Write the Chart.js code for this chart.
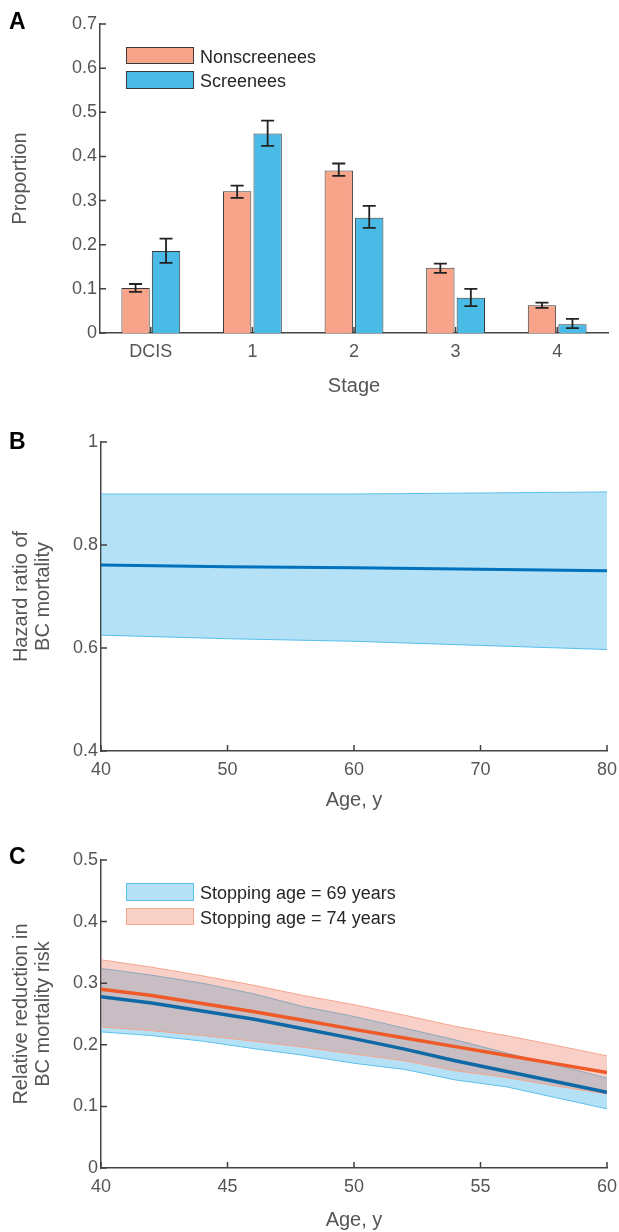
<!DOCTYPE html>
<html>
<head>
<meta charset="utf-8">
<script src="https://cdn.jsdelivr.net/npm/chart.js@4.4.1/dist/chart.umd.min.js"></script>
<style>
body { margin: 0; background: #fff; width: 619px; height: 1232px; position: relative; overflow: hidden; font-family: 'Liberation Sans', Arial, sans-serif; }
canvas { position: absolute; left: 0; }
.panel { position: absolute; left: 9px; font-weight: bold; font-size: 23px; line-height: 23px; color: #000; }
.box { position: absolute; left: 126px; width: 68px; box-sizing: border-box; }
.ltxt { position: absolute; left: 200px; font-size: 18px; line-height: 18px; color: #262626; white-space: nowrap; }
</style>
</head>
<body>
<canvas id="chartA" width="619" height="410" style="top:0px"></canvas>
<canvas id="chartB" width="619" height="420" style="top:410px"></canvas>
<canvas id="chartC" width="619" height="402" style="top:830px"></canvas>

<div class="panel" style="top:10px">A</div>
<div class="panel" style="top:430px">B</div>
<div class="panel" style="top:845px">C</div>

<div class="box" style="top:47px;height:17px;background:#F7A48A;border:1px solid #3a3a3a"></div>
<div class="ltxt" style="top:48px">Nonscreenees</div>
<div class="box" style="top:71px;height:18px;background:#4ABBE6;border:1px solid #3a3a3a"></div>
<div class="ltxt" style="top:72px">Screenees</div>

<div class="box" style="top:883px;height:18px;background:#B4E1F4;border:1px solid #5BC0EB"></div>
<div class="ltxt" style="top:884px">Stopping age = 69 years</div>
<div class="box" style="top:908px;height:17px;background:#F9D2C7;border:1px solid #F6A58D"></div>
<div class="ltxt" style="top:909px">Stopping age = 74 years</div>

<script>
// panel A: stage distribution
const stages = ['DCIS', '1', '2', '3', '4'];
const nonscreenees = [0.102, 0.321, 0.368, 0.148, 0.063];
const nonLow = [0.093, 0.306, 0.356, 0.136, 0.057];
const nonHigh = [0.111, 0.334, 0.384, 0.157, 0.069];
const screenees = [0.186, 0.452, 0.261, 0.080, 0.020];
const scrLow = [0.159, 0.424, 0.238, 0.061, 0.011];
const scrHigh = [0.214, 0.481, 0.288, 0.100, 0.032];

// panel B: hazard ratio
const hrAges = [40, 50, 60, 70, 80];
const hrMean = [0.761, 0.758, 0.756, 0.753, 0.750];
const hrUpper = [0.899, 0.899, 0.899, 0.901, 0.903];
const hrLower = [0.625, 0.618, 0.613, 0.605, 0.597];

// panel C: relative reduction
const rrAges = [40, 42, 44, 46, 48, 50, 52, 54, 56, 58, 60];
const mean69 = [0.278, 0.268, 0.255, 0.242, 0.226, 0.210, 0.193, 0.174, 0.157, 0.140, 0.123];
const upper69 = [0.324, 0.313, 0.300, 0.283, 0.262, 0.246, 0.227, 0.208, 0.187, 0.167, 0.146];
const lower69 = [0.221, 0.215, 0.206, 0.194, 0.183, 0.170, 0.160, 0.143, 0.132, 0.114, 0.096];
const mean74 = [0.290, 0.280, 0.267, 0.254, 0.240, 0.225, 0.211, 0.197, 0.183, 0.169, 0.155];
const upper74 = [0.338, 0.326, 0.312, 0.297, 0.280, 0.265, 0.248, 0.230, 0.215, 0.199, 0.182];
const lower74 = [0.229, 0.223, 0.215, 0.206, 0.196, 0.185, 0.174, 0.158, 0.147, 0.133, 0.120];

const FONT = "'Liberation Sans', Arial, sans-serif";
const AXIS = '#444';
const TEXT = '#555';

Chart.defaults.font.family = FONT;
Chart.defaults.animation = false;
Chart.defaults.elements.point.radius = 0;
Chart.defaults.plugins.legend.display = false;
Chart.defaults.plugins.tooltip.enabled = false;

function fmt(v) {
    return parseFloat(Number(v).toFixed(2)).toString();
}

function pts(xs, ys) {
    return xs.map((x, i) => ({ x: x, y: ys[i] }));
}

function drawInnerTicks(chart, id) {
    const s = chart.scales[id], a = chart.chartArea, ctx = chart.ctx;
    ctx.save();
    ctx.strokeStyle = '#404040';
    ctx.lineWidth = 1.5;
    ctx.beginPath();
    s.ticks.forEach((t, i) => {
        const p = s.getPixelForTick(i);
        if (id === 'x') {
            ctx.moveTo(p, a.bottom);
            ctx.lineTo(p, a.bottom - 6);
        } else {
            ctx.moveTo(a.left, p);
            ctx.lineTo(a.left + 6, p);
        }
    });
    ctx.stroke();
    ctx.restore();
}

// MATLAB style ticks point into the plot
function innerTicks(xUnderData) {
    return {
        id: 'innerTicks',
        beforeDatasetsDraw(chart) {
            if (xUnderData) drawInnerTicks(chart, 'x');
        },
        afterDraw(chart) {
            if (!xUnderData) drawInnerTicks(chart, 'x');
            drawInnerTicks(chart, 'y');
        }
    };
}

const errorBars = {
    id: 'errorBars',
    afterDatasetsDraw(chart) {
        const ctx = chart.ctx, y = chart.scales.y;
        const lows = [nonLow, scrLow], highs = [nonHigh, scrHigh];
        ctx.save();
        ctx.strokeStyle = '#222';
        ctx.lineWidth = 1.8;
        chart.data.datasets.forEach((ds, d) => {
            chart.getDatasetMeta(d).data.forEach((bar, i) => {
                const top = y.getPixelForValue(highs[d][i]);
                const bot = y.getPixelForValue(lows[d][i]);
                ctx.beginPath();
                ctx.moveTo(bar.x, top); ctx.lineTo(bar.x, bot);
                ctx.moveTo(bar.x - 6.5, top); ctx.lineTo(bar.x + 6.5, top);
                ctx.moveTo(bar.x - 6.5, bot); ctx.lineTo(bar.x + 6.5, bot);
                ctx.stroke();
            });
        });
        ctx.restore();
    }
};

function xAxis(height, titleText, padBottom, extra) {
    return Object.assign({
        afterFit: s => {
            s.height = height;
            s.paddingLeft = 0;   // let the end labels hang over the edges
            s.paddingRight = 0;
        },
        grid: { display: false, drawTicks: false, tickLength: 0 },
        border: { display: true, color: AXIS, width: 1.5 },
        ticks: { padding: 8, color: TEXT, font: { size: 18 }, autoSkip: false, maxRotation: 0 },
        title: { display: true, text: titleText, color: TEXT, font: { size: 20 }, padding: { top: 0, bottom: padBottom } }
    }, extra);
}

function yAxis(width, min, max, step, titleText, padTop, lineHeight) {
    return {
        min: min,
        max: max,
        afterFit: s => { s.width = width; },
        grid: { display: false, drawTicks: false, tickLength: 0 },
        border: { display: true, color: AXIS, width: 1.5 },
        ticks: { stepSize: step, padding: 3, color: TEXT, font: { size: 18 }, callback: v => fmt(v) },
        title: { display: true, text: titleText, color: TEXT, font: { size: 20, lineHeight: lineHeight }, padding: { top: padTop, bottom: 0 } }
    };
}

new Chart(document.getElementById('chartA').getContext('2d'), {
    type: 'bar',
    data: {
        labels: stages,
        datasets: [{
            label: 'Nonscreenees',
            data: nonscreenees,
            backgroundColor: '#F7A48A',
            borderColor: '#3a3a3a',
            borderWidth: 1,
            barPercentage: 0.93,
            categoryPercentage: 0.6
        }, {
            label: 'Screenees',
            data: screenees,
            backgroundColor: '#4ABBE6',
            borderColor: '#3a3a3a',
            borderWidth: 1,
            barPercentage: 0.93,
            categoryPercentage: 0.6
        }]
    },
    options: {
        responsive: false,
        maintainAspectRatio: false,
        layout: { padding: { left: 0, right: 11, top: 24, bottom: 0 } },
        scales: {
            x: xAxis(77, 'Stage', 12),
            y: yAxis(100, 0, 0.7, 0.1, 'Proportion', 8, 1.2)
        }
    },
    plugins: [innerTicks(true), errorBars]
});

new Chart(document.getElementById('chartB').getContext('2d'), {
    type: 'line',
    data: {
        datasets: [{
            data: pts(hrAges, hrUpper),
            borderColor: '#5BC0EB',
            borderWidth: 1,
            backgroundColor: 'rgba(77,183,230,0.42)',
            fill: '+1',
            order: 3
        }, {
            data: pts(hrAges, hrLower),
            borderColor: '#5BC0EB',
            borderWidth: 1,
            fill: false,
            order: 3
        }, {
            data: pts(hrAges, hrMean),
            borderColor: '#0072BD',
            borderWidth: 3,
            fill: false,
            order: 1
        }]
    },
    options: {
        responsive: false,
        maintainAspectRatio: false,
        layout: { padding: { left: 0, right: 12, top: 32, bottom: 0 } },
        scales: {
            x: xAxis(79, 'Age, y', 18, { type: 'linear', min: 40, max: 80 }),
            y: yAxis(101, 0.4, 1, 0.2, ['Hazard ratio of', 'BC mortality'], 10, 1.12)
        }
    },
    plugins: [innerTicks(false)]
});
Chart.getChart('chartB').options.scales.x.ticks.stepSize = 10;
Chart.getChart('chartB').update();

new Chart(document.getElementById('chartC').getContext('2d'), {
    type: 'line',
    data: {
        datasets: [{
            data: pts(rrAges, upper69),
            borderColor: '#5BC0EB',
            borderWidth: 1,
            backgroundColor: 'rgba(77,183,230,0.42)',
            fill: '+1',
            order: 6
        }, {
            data: pts(rrAges, lower69),
            borderColor: '#5BC0EB',
            borderWidth: 1,
            fill: false,
            order: 5
        }, {
            data: pts(rrAges, upper74),
            borderColor: '#F6A58D',
            borderWidth: 1,
            backgroundColor: 'rgba(237,119,98,0.35)',
            fill: '+1',
            order: 4
        }, {
            data: pts(rrAges, lower74),
            borderColor: '#F6A58D',
            borderWidth: 1,
            fill: false,
            order: 3
        }, {
            data: pts(rrAges, mean69),
            borderColor: '#0F69A6',
            borderWidth: 3.5,
            fill: false,
            order: 2
        }, {
            data: pts(rrAges, mean74),
            borderColor: '#EF5A28',
            borderWidth: 3.5,
            fill: false,
            order: 1
        }]
    },
    options: {
        responsive: false,
        maintainAspectRatio: false,
        layout: { padding: { left: 0, right: 12, top: 30, bottom: 0 } },
        scales: {
            x: xAxis(64, 'Age, y', 0, { type: 'linear', min: 40, max: 60 }),
            y: yAxis(101, 0, 0.5, 0.1, ['Relative reduction in', 'BC mortality risk'], 10, 1.12)
        }
    },
    plugins: [innerTicks(false)]
});
Chart.getChart('chartC').options.scales.x.ticks.stepSize = 5;
Chart.getChart('chartC').update();
</script>
</body>
</html>
